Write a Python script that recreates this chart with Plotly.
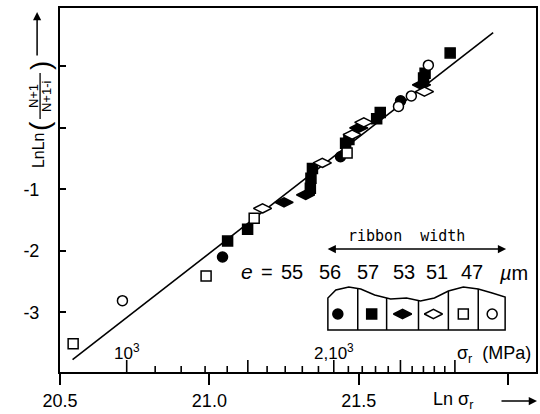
import math
import plotly.graph_objects as go

# Weibull plot: LnLn(N+1/(N+1-i)) versus ln(fracture stress), per ribbon width e
e55_x = [21.044, 21.439, 21.640]
e55_y = [-2.10, -0.47, 0.44]

e56_x = [21.061, 21.128, 21.338, 21.340, 21.345, 21.456, 21.467, 21.560, 21.572, 21.717, 21.722, 21.806]
e56_y = [-1.84, -1.65, -0.98, -0.82, -0.66, -0.25, -0.19, 0.15, 0.25, 0.81, 0.89, 1.22]

e57_x = [21.250, 21.322, 21.500, 21.710]
e57_y = [-1.21, -1.09, 0.00, 0.70]

e53_x = [21.178, 21.378, 21.478, 21.517, 21.720]
e53_y = [-1.31, -0.57, -0.11, 0.09, 0.59]

e51_x = [20.544, 20.989, 21.150, 21.461]
e51_y = [-3.51, -2.41, -1.47, -0.41]

e47_x = [20.709, 21.633, 21.676, 21.733]
e47_y = [-2.81, 0.35, 0.52, 1.02]

fit_x = [20.542, 21.950]
fit_y = [-3.77, 1.55]

widths = ["55", "56", "57", "53", "51", "47"]

x_ticks = [20.5, 21.0, 21.5, 22.0]
x_ticktext = ["20.5", "21.0", "21.5", ""]
x_minor = [20.6, 20.7, 20.8, 20.9, 21.1, 21.2, 21.3, 21.4, 21.6, 21.7, 21.8, 21.9]
y_ticks = [1, 0, -1, -2, -3]
y_ticktext = ["", "", "-1", "-2", "-3"]

# stress scale in MPa, drawn on the same ln axis (stress in Pa)
mpa_major = [1000, 1500, 2000, 2500, 3000]
mpa_minor = [1100, 1200, 1300, 1400, 1600, 1700, 1800, 1900,
             2100, 2200, 2300, 2400, 2600, 2700, 2800, 2900]
mpa_labels = {1000: "10<sup>3</sup>", 2000: "2,10<sup>3</sup>"}


def ln_pa(mpa):
    return math.log(mpa * 1e6)


W, H = 540, 414
ML, MR, MT, MB = 60, 2, 8, 42
PW, PH = W - ML - MR, H - MT - MB
X0 = 20.5
X1 = X0 + PW / 300.0
YR = [-3.97, 1.95]
Y_PER_PX = (YR[1] - YR[0]) / PH

FONT = "Liberation Sans Narrow, Liberation Sans, Arial, sans-serif"
FONT_N = "Liberation Sans, Arial, sans-serif"


def px(x):
    return (x - ML) / PW


def py(y):
    return (H - MB - y) / PH


def label(xp, yp, text, size, family=FONT_N, angle=0):
    return dict(x=px(xp), y=py(yp), xref="paper", yref="paper", text=text,
                showarrow=False, xanchor="center", yanchor="middle",
                textangle=angle, font=dict(family=family, size=size))


def arrow(xp, yp, dx, dy, both=False):
    return dict(x=px(xp), y=py(yp), xref="paper", yref="paper",
                ax=dx, ay=dy, axref="pixel", ayref="pixel", text="",
                showarrow=True, arrowhead=2, arrowsize=1.1, arrowwidth=1.5,
                arrowcolor="black",
                arrowside="end+start" if both else "end")


def tick_marks(xs, length, upward):
    # short vertical strokes standing on (or hanging from) the bottom frame
    offset = (length / 2.0) * Y_PER_PX
    yc = YR[0] + offset if upward else YR[0] - offset
    return go.Scatter(x=xs, y=[yc] * len(xs), mode="markers", cliponaxis=False,
                      marker=dict(symbol="line-ns-open", size=length,
                                  color="black",
                                  line=dict(color="black", width=1.6)),
                      hoverinfo="skip", showlegend=False)


fig = go.Figure()

fig.add_trace(go.Scatter(x=fit_x, y=fit_y, mode="lines",
                         line=dict(color="black", width=1.6),
                         hoverinfo="skip", showlegend=False))

series = [
    (e55_x, e55_y, "circle", 10, "black"),
    (e56_x, e56_y, "square", 10, "black"),
    (e57_x, e57_y, "diamond-wide", 13, "black"),
    (e53_x, e53_y, "diamond-wide", 13, "white"),
    (e51_x, e51_y, "square", 10, "white"),
    (e47_x, e47_y, "circle", 10, "white"),
]
for (xs, ys, sym, size, fill), w in zip(series, widths):
    fig.add_trace(go.Scatter(
        x=xs, y=ys, mode="markers", name="e = " + w + " µm",
        marker=dict(symbol=sym, size=size, color=fill,
                    line=dict(color="black", width=1.5)),
        showlegend=False))

# MPa ticks (upward) and minor ln ticks (downward)
fig.add_trace(tick_marks([ln_pa(v) for v in mpa_major], 10, True))
fig.add_trace(tick_marks([ln_pa(v) for v in mpa_minor], 5, True))
fig.add_trace(tick_marks(x_minor, 6, False))

fig.update_layout(
    width=W, height=H,
    margin=dict(l=ML, r=MR, t=MT, b=MB),
    paper_bgcolor="white", plot_bgcolor="white",
    font=dict(family=FONT, size=19, color="black"),
    xaxis=dict(range=[X0, X1], tickmode="array", tickvals=x_ticks,
               ticktext=x_ticktext,
               ticks="outside", ticklen=11, tickwidth=1.6, tickcolor="black",
               showline=True, linewidth=2, linecolor="black", mirror=True,
               showgrid=False, zeroline=False,
               tickfont=dict(family=FONT, size=18)),
    yaxis=dict(range=YR, tickvals=y_ticks, ticktext=y_ticktext,
               ticks="inside", ticklen=6, tickwidth=1.5, tickcolor="black",
               showline=True, linewidth=2, linecolor="black", mirror=True,
               showgrid=False, zeroline=False, ticklabelstandoff=15,
               tickfont=dict(family=FONT, size=18)),
    # overlay axes spanning the plot area, used for the key symbols
    xaxis3=dict(overlaying="x", range=[0, 1], visible=False, anchor="y3"),
    yaxis3=dict(overlaying="y", range=[0, 1], visible=False, anchor="x3"),
)

ann = []
# MPa labels above the inner ticks
for v, t in mpa_labels.items():
    ann.append(dict(x=ln_pa(v), xref="x", y=py(352), yref="paper", text=t,
                    showarrow=False, xanchor="center", yanchor="middle",
                    font=dict(family=FONT, size=17)))
ann.append(label(496, 354, "σ<sub>r</sub>  (MPa)", 18))
# bottom axis name with arrow
ann.append(label(455, 400, "Ln σ<sub>r</sub>", 18))
ann.append(arrow(539, 401, -37, 0))
# y-axis title: LnLn((N+1)/(N+1-i)) written upwards
ann.append(label(39, 150, "LnLn", 16, angle=-90))
ann.append(label(40, 126, "(", 28, angle=-90))
ann.append(label(40, 66, ")", 28, angle=-90))
ann.append(label(33, 96, "N+1", 13, angle=-90))
ann.append(label(46, 96, "N+1-i", 13, angle=-90))
ann.append(arrow(37, 12, 0, 45))

# ribbon-width key
ann.append(label(408, 236, "ribbon  width", 15,
                 family="DejaVu Sans Mono, monospace"))
ann.append(arrow(508, 249, -180, 0, both=True))
ann.append(label(248, 271, "<i>e</i>", 21))
ann.append(label(268, 272, "=", 20))
for w, cx in zip(widths, [293, 331, 369, 405, 439, 474]):
    ann.append(label(cx, 272, w, 20))
ann.append(label(515, 273, "<i>µ</i>m", 20))
fig.update_layout(annotations=ann)

shapes = []
# ribbon outline with wavy top edge and six cells
top = [(329, 298), (337, 290), (350, 287), (362, 289), (376, 295),
       (392, 299), (408, 298), (422, 301), (436, 298), (450, 291),
       (465, 287), (480, 289), (494, 293), (507, 297)]


def top_y(xp):
    for (xa, ya), (xb, yb) in zip(top[:-1], top[1:]):
        if xa <= xp <= xb:
            return ya + (yb - ya) * (xp - xa) / (xb - xa)
    return top[-1][1]


d = "M {} {}".format(px(329), py(330))
for xa, ya in top:
    d += " L {} {}".format(px(xa), py(ya))
d += " L {} {} Z".format(px(507), py(330))
shapes.append(dict(type="path", path=d, xref="paper", yref="paper",
                   line=dict(color="black", width=1.5)))
for xd in [359, 388, 420, 450, 480]:
    shapes.append(dict(type="line", xref="paper", yref="paper",
                       x0=px(xd), x1=px(xd), y0=py(330), y1=py(top_y(xd)),
                       line=dict(color="black", width=1.5)))
# fraction bar of the y title
shapes.append(dict(type="line", xref="paper", yref="paper",
                   x0=px(40), x1=px(40), y0=py(73), y1=py(119),
                   line=dict(color="black", width=1.3)))
fig.update_layout(shapes=shapes)

# key symbols inside the cells
key_cx = [339, 373, 404, 435, 465, 494]
for (xs, ys, sym, size, fill), cx in zip(series, key_cx):
    fig.add_trace(go.Scatter(
        x=[px(cx)], y=[py(314)], xaxis="x3", yaxis="y3", mode="markers",
        marker=dict(symbol=sym, size=size, color=fill,
                    line=dict(color="black", width=1.5)),
        hoverinfo="skip", showlegend=False))

fig.write_html("out.html")
